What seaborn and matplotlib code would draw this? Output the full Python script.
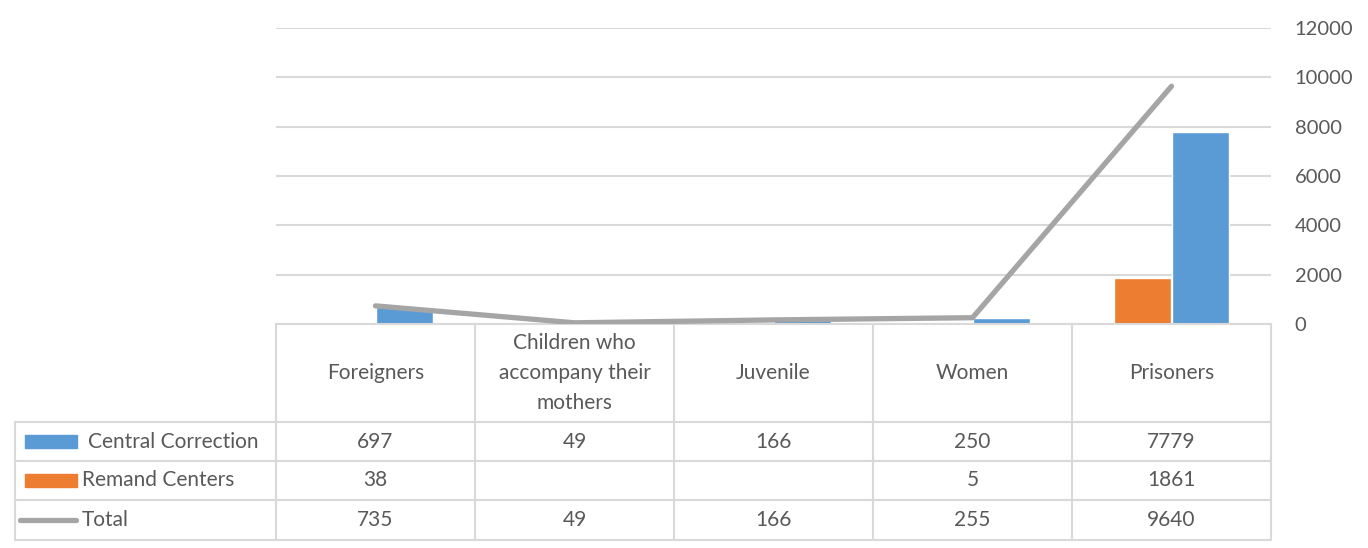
import seaborn as sns
import pandas as pd
import numpy as np
import matplotlib.pyplot as plt
from matplotlib.patches import Rectangle

categories = ["Foreigners", "Children who\naccompany their\nmothers", "Juvenile", "Women", "Prisoners"]
central = [697, 49, 166, 250, 7779]
remand = [38, np.nan, np.nan, 5, 1861]
total = [735, 49, 166, 255, 9640]
series = ["Central Correction", "Remand Centers", "Total"]
yticks = [0, 2000, 4000, 6000, 8000, 10000, 12000]

blue = '#5b9bd5'
orange = '#ed7d31'
grey = '#a5a5a5'
txt = '#595959'
border = '#d9d9d9'

sns.set_theme(style='white')
plt.rcParams['font.family'] = ['Lato', 'DejaVu Sans']

W, H = 1368, 548
fig = plt.figure(figsize=(W / 100, H / 100), dpi=100)
fig.patch.set_facecolor('white')

# plot area in pixels
px_l, px_r, px_top, px_bot = 276, 1271, 28, 324
ax = fig.add_axes([px_l / W, 1 - px_bot / H, (px_r - px_l) / W, (px_bot - px_top) / H])

df = pd.DataFrame({
    'cat': categories * 2,
    'series': [series[0]] * 5 + [series[1]] * 5,
    'value': central + remand,
})
sns.barplot(data=df, x='cat', y='value', hue='series', order=categories,
            hue_order=[series[1], series[0]],
            palette={series[0]: blue, series[1]: orange},
            width=0.575, gap=0, saturation=1, legend=False, ax=ax, zorder=2)
sns.lineplot(x=np.arange(len(categories)), y=total, color=grey, linewidth=3.8,
             ax=ax, zorder=3, solid_capstyle='round', solid_joinstyle='round')

fs = 15
ax.set_xlim(-0.5, len(categories) - 0.5)
ax.set_ylim(0, 12000)
ax.set_yticks(yticks)
ax.yaxis.tick_right()
ax.tick_params(axis='y', length=0, pad=17, labelsize=14.5, labelcolor=txt)
ax.set_xticks([])
ax.set_xlabel('')
ax.set_ylabel('')
ax.grid(axis='y', color=border, linewidth=1.5, zorder=0)
ax.set_axisbelow(True)
for s in ['left', 'right', 'top']:
    ax.spines[s].set_visible(False)
ax.spines['bottom'].set_color(border)
ax.spines['bottom'].set_linewidth(1.5)

# data table drawn in pixel coordinates
tab = fig.add_axes([0, 0, 1, 1], zorder=-1)
tab.set_xlim(0, W)
tab.set_ylim(H, 0)
tab.axis('off')

col_w = (px_r - px_l) / len(categories)
row_y = [422, 461, 500, 540]
tab_left = 15
lw = 1.5
for i in range(len(categories) + 1):
    x = px_l + i * col_w
    tab.plot([x, x], [px_bot, row_y[-1]], color=border, lw=lw)
tab.plot([tab_left, tab_left], [row_y[0], row_y[-1]], color=border, lw=lw)
for y in row_y:
    tab.plot([tab_left, px_r], [y, y], color=border, lw=lw)

for i, c in enumerate(categories):
    cx = px_l + (i + 0.5) * col_w
    tab.text(cx, (px_bot + row_y[0]) / 2, c, ha='center', va='center',
             fontsize=fs, color=txt, linespacing=1.62)
    for r, vals in enumerate([central, remand, total]):
        v = vals[i]
        label = '' if pd.isna(v) else str(int(v))
        tab.text(cx, (row_y[r] + row_y[r + 1]) / 2, label, ha='center', va='center',
                 fontsize=fs, color=txt)

# legend keys in the table
ym = [(row_y[r] + row_y[r + 1]) / 2 for r in range(3)]
tab.add_patch(Rectangle((25, ym[0] - 6.5), 52, 13, color=blue))
tab.add_patch(Rectangle((25, ym[1] - 6.5), 52, 13, color=orange))
tab.plot([20, 76], [ym[2], ym[2]], color=grey, lw=3.8, solid_capstyle='round')
tab.text(88, ym[0], series[0], ha='left', va='center', fontsize=fs, color=txt)
tab.text(82, ym[1], series[1], ha='left', va='center', fontsize=fs, color=txt)
tab.text(82, ym[2], series[2], ha='left', va='center', fontsize=fs, color=txt)

fig.savefig('out.png', dpi=100, facecolor='white')
